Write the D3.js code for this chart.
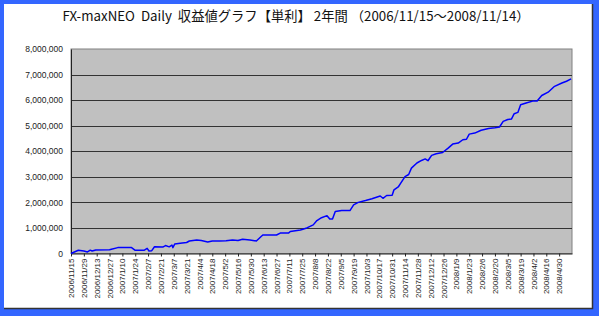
<!DOCTYPE html>
<html>
<head>
<meta charset="utf-8">
<script src="https://cdn.jsdelivr.net/npm/d3@7"></script>
<style>
  body { margin: 0; background: #3366ff; }
  svg { display: block; }
</style>
</head>
<body>
<div id="mainContainer"></div>
<script>
var titleText = "FX-maxNEO\u00a0\u00a0Daily\u00a0\u00a0収益値グラフ【単利】 2年間 （2006/11/15～2008/11/14）";

var dates = ["2006/11/15","2006/11/23","2006/11/29","2006/12/3","2006/12/6","2006/12/8","2006/12/12","2006/12/27","2006/12/29",
  "2007/1/5","2007/1/20","2007/1/24","2007/2/3","2007/2/6","2007/2/8","2007/2/11","2007/2/14","2007/2/23","2007/2/26",
  "2007/3/2","2007/3/5","2007/3/6","2007/3/8","2007/3/14","2007/3/21","2007/3/24","2007/4/1","2007/4/6","2007/4/13",
  "2007/4/18","2007/4/26","2007/5/3","2007/5/10","2007/5/16","2007/5/21","2007/5/29","2007/6/5","2007/6/12","2007/6/27",
  "2007/7/1","2007/7/10","2007/7/12","2007/7/23","2007/7/30","2007/8/6","2007/8/10","2007/8/15","2007/8/21","2007/8/24",
  "2007/8/27","2007/8/30","2007/9/6","2007/9/15","2007/9/19","2007/9/24","2007/10/2","2007/10/9","2007/10/18","2007/10/21",
  "2007/10/25","2007/10/31","2007/11/2","2007/11/7","2007/11/9","2007/11/14","2007/11/18","2007/11/21","2007/11/27","2007/12/2",
  "2007/12/6","2007/12/9","2007/12/13","2007/12/18","2007/12/25","2007/12/31","2008/1/5","2008/1/11","2008/1/16","2008/1/20",
  "2008/1/23","2008/1/29","2008/2/5","2008/2/13","2008/2/20","2008/2/25","2008/2/29","2008/3/5","2008/3/9","2008/3/12",
  "2008/3/16","2008/3/19","2008/3/25","2008/4/2","2008/4/6","2008/4/11","2008/4/18","2008/4/25","2008/5/3","2008/5/8","2008/5/13"];

var profit = [0,125000,100000,60000,130000,100000,140000,150000,170000,
  230000,230000,125000,130000,200000,100000,110000,265000,250000,310000,
  260000,330000,230000,370000,400000,430000,490000,530000,510000,450000,
  490000,490000,500000,530000,510000,560000,530000,490000,725000,725000,
  800000,800000,860000,920000,1000000,1120000,1290000,1400000,1480000,1350000,
  1350000,1640000,1680000,1680000,1900000,2000000,2070000,2140000,2250000,2160000,
  2270000,2280000,2490000,2620000,2730000,3010000,3090000,3340000,3540000,3640000,
  3700000,3630000,3840000,3900000,3950000,4120000,4280000,4320000,4450000,4470000,
  4670000,4710000,4820000,4890000,4920000,4950000,5170000,5240000,5260000,5470000,
  5520000,5820000,5890000,5970000,5970000,6180000,6310000,6540000,6670000,6740000,6830000];

var tickLabels = ["2006/11/15","2006/11/29","2006/12/13","2006/12/27","2007/1/10","2007/1/24","2007/2/7","2007/2/21",
  "2007/3/7","2007/3/21","2007/4/4","2007/4/18","2007/5/2","2007/5/16","2007/5/30","2007/6/13","2007/6/27","2007/7/11",
  "2007/7/25","2007/8/8","2007/8/22","2007/9/5","2007/9/19","2007/10/3","2007/10/17","2007/10/31","2007/11/14","2007/11/28",
  "2007/12/12","2007/12/26","2008/1/9","2008/1/23","2008/2/6","2008/2/20","2008/3/5","2008/3/19","2008/4/2","2008/4/16","2008/4/30"];

var yTicks = [0,1000000,2000000,3000000,4000000,5000000,6000000,7000000,8000000];

var parse = d3.timeParse("%Y/%m/%d");
var dataArray = [];
for (var i = 0; i < dates.length && i < profit.length; i++) {
    dataArray.push({ x: parse(dates[i]), y: profit[i] });
}

var W = 599, H = 316;
var plotLeft = 71, plotRight = 572, plotTop = 49, plotBottom = 253.5;

var svg = d3.select('#mainContainer').append('svg')
    .attr('width', W)
    .attr('height', H);

// white chart panel with dark shadow edge
svg.append('rect').attr('x', 4).attr('y', 4).attr('width', 588).attr('height', 304).attr('fill', '#fff');
svg.append('path').attr('d', 'M592.5,4V308.5H4').attr('fill', 'none').attr('stroke', '#333').attr('stroke-width', 1.5);

var xscale = d3.scaleTime()
    .domain([parse("2006/11/15"), parse("2008/5/14")])
    .range([plotLeft, plotRight]);

var yscale = d3.scaleLinear()
    .domain([0, 8000000])
    .range([plotBottom, plotTop]);

// plot area
svg.append('rect')
    .attr('x', plotLeft).attr('y', plotTop)
    .attr('width', plotRight - plotLeft).attr('height', plotBottom - plotTop)
    .attr('fill', '#c0c0c0')
    .attr('stroke', '#808080')
    .attr('stroke-width', 1);

svg.append('g')
    .selectAll('line')
    .data(yTicks.slice(1, -1))
    .enter()
    .append('line')
    .attr('x1', plotLeft).attr('x2', plotRight)
    .attr('y1', function (d) { return Math.round(yscale(d)) + 0.5; })
    .attr('y2', function (d) { return Math.round(yscale(d)) + 0.5; })
    .attr('stroke', '#333')
    .attr('stroke-width', 1.2);

// axes
var yAxis = svg.append('g')
    .attr('transform', 'translate(' + plotLeft + ',0)')
    .call(d3.axisLeft(yscale).tickValues(yTicks).tickSize(0).tickPadding(8).tickFormat(d3.format(',')));
yAxis.select('.domain').attr('stroke', '#222');
yAxis.selectAll('text')
    .attr('font-family', '"Liberation Sans", Arial, sans-serif')
    .attr('font-size', '8.5px')
    .attr('fill', '#222');

var xAxis = svg.append('g')
    .attr('transform', 'translate(0,' + plotBottom + ')')
    .call(d3.axisBottom(xscale).tickValues(tickLabels.map(parse)).tickSize(3).tickSizeOuter(0).tickFormat(d3.timeFormat('%Y/%-m/%-d')));
xAxis.select('.domain').attr('stroke', '#222');
xAxis.selectAll('.tick line').attr('stroke', '#222');
xAxis.selectAll('text')
    .attr('transform', 'rotate(-90)')
    .attr('x', -5)
    .attr('y', 0)
    .attr('dy', '0.32em')
    .attr('text-anchor', 'end')
    .attr('font-family', '"Liberation Sans", Arial, sans-serif')
    .attr('font-size', '8px')
    .attr('fill', '#222');

// profit line
var line = d3.line()
    .x(function (d) { return xscale(d.x); })
    .y(function (d) { return yscale(d.y); });

svg.append('path')
    .datum(dataArray)
    .attr('d', line)
    .attr('fill', 'none')
    .attr('stroke', '#0000ff')
    .attr('stroke-width', 1.5)
    .attr('stroke-linejoin', 'round');

svg.append('text')
    .attr('x', 296)
    .attr('y', 21)
    .attr('text-anchor', 'middle')
    .attr('font-family', '"Noto Sans CJK JP", sans-serif')
    .attr('font-size', '13.3px')
    .attr('fill', '#111')
    .text(titleText);
</script>
</body>
</html>
